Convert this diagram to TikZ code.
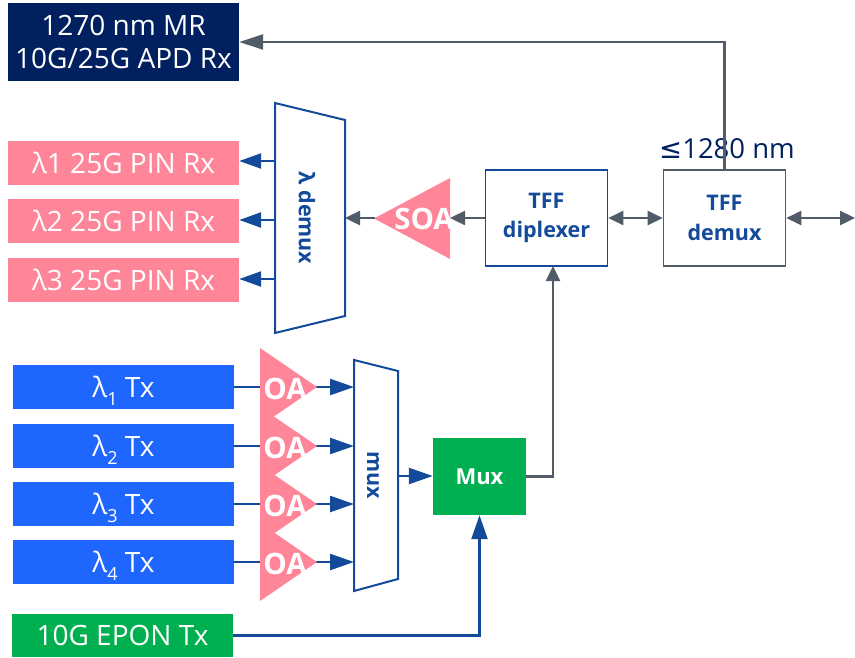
\documentclass[tikz,border=0pt]{standalone}
\usepackage{fontspec}
\setmainfont{Open Sans}
\newfontfamily\symfont{DejaVu Sans}
\usetikzlibrary{arrows.meta}
\definecolor{navy}{HTML}{002060}
\definecolor{rosa}{HTML}{FF8599}
\definecolor{txblue}{HTML}{1F66FF}
\definecolor{grn}{HTML}{00B050}
\definecolor{lineblue}{HTML}{134A9A}
\definecolor{linegrey}{HTML}{525B68}
\newcommand{\lab}[1]{\fontsize{#1}{#1}\selectfont}
\newcommand{\subdig}[1]{\raisebox{-0.32em}{\lab{18}#1}}
\tikzset{
  x=1pt,y=-1pt,
  block/.style={rectangle,inner sep=0pt,text=white,font=\lab{28}},
  oneline/.style={text height=20pt,text depth=0pt},
  rxbox/.style={block,oneline,fill=rosa,minimum width=231,minimum height=44},
  txbox/.style={block,oneline,fill=txblue,minimum width=221,minimum height=44},
  epon/.style={block,oneline,fill=grn,minimum width=221,minimum height=43},
  whitebox/.style={rectangle,inner sep=0pt,fill=white,draw,line width=1.6pt,minimum width=122,minimum height=96,align=center,text=lineblue,font=\bfseries\lab{21.5}},
  amp/.style={fill=rosa,draw=none},
  amplabel/.style={inner sep=0pt,text=white,font=\bfseries\lab{29.5}},
  trap/.style={draw=lineblue,line width=2pt,line join=miter,fill=white},
  rot/.style={inner sep=0pt,rotate=-90,text=lineblue,font=\bfseries\lab{21.5}},
  blueline/.style={draw=lineblue,line width=2.4pt,-{Triangle[length=24pt,width=16pt]}},
  blueshort/.style={draw=lineblue,line width=2.4pt,-{Triangle[length=22pt,width=15pt]}},
  greyline/.style={draw=linegrey,line width=2.4pt,-{Triangle[length=15pt,width=14pt]}},
  greylong/.style={draw=linegrey,line width=2.4pt,-{Triangle[length=24pt,width=15pt]}},
  greydouble/.style={draw=linegrey,line width=2.4pt,{Triangle[length=15pt,width=14pt]}-{Triangle[length=15pt,width=14pt]}},
}
\begin{document}
\begin{tikzpicture}
\useasboundingbox (0,0) rectangle (855,657);
% blocks
\node[block,fill=navy,minimum width=231,minimum height=78,align=center] (apd) at (123.5,42) {1270 nm MR\\[5pt]10G/25G APD Rx};
\node[rxbox] (rx1) at (123.5,163) {λ1 25G PIN Rx};
\node[rxbox] (rx2) at (123.5,221) {λ2 25G PIN Rx};
\node[rxbox] (rx3) at (123.5,280) {λ3 25G PIN Rx};
\node[txbox] (tx1) at (123.5,387) {λ\subdig{1} Tx};
\node[txbox] (tx2) at (123.5,446) {λ\subdig{2} Tx};
\node[txbox] (tx3) at (123.5,504) {λ\subdig{3} Tx};
\node[txbox] (tx4) at (123.5,562) {λ\subdig{4} Tx};
\node[epon] (eptx) at (122.5,635.5) {10G EPON Tx};
\node[rectangle,inner sep=0pt,fill=grn,minimum width=93,minimum height=77,text=white,font=\bfseries\lab{22}] (mx) at (479.5,476.5) {Mux};
\node[whitebox,draw=lineblue] (dip) at (546.5,218) {TFF\\[8pt]diplexer};
\node[whitebox,draw=linegrey] (dem) at (724.5,218) {TFF\\[8pt]demux};
\node[inner sep=0pt,text=navy,font=\lab{27.5}] (lim) at (727,149) {{\symfont ≤}1280 nm};
% free coordinates
\coordinate (fibre) at (855,218);
\coordinate (dl) at (275,161);
\coordinate (dm) at (275,220);
\coordinate (db) at (275,279);
\coordinate (dr) at (345,218);
\coordinate (soaL) at (375,218);
\coordinate (soaR) at (450,218);
\coordinate (m1) at (354,387);
\coordinate (m2) at (354,446);
\coordinate (m3) at (354,504);
\coordinate (m4) at (354,562);
\coordinate (mr) at (398,476);
\coordinate (dipin) at (553,266);
% connectors under amplifiers
\draw[blueline] (tx1.east) -- (m1);
\draw[blueline] (tx2.east) -- (m2);
\draw[blueline] (tx3.east) -- (m3);
\draw[blueline] (tx4.east) -- (m4);
% demux and mux
\draw[trap] (275,103) -- (345,120) -- (345,316) -- (275,333) -- cycle;
\node[rot] (dlab) at (307,218) {λ demux};
\draw[trap] (354,360) -- (398,371) -- (398,579) -- (354,591) -- cycle;
\node[rot] (mlab) at (373,475) {mux};
% amplifiers
\foreach \n/\y in {1/387,2/446,3/504,4/562}{
  \fill[amp] (260,\y-39) -- (317,\y) -- (260,\y+39) -- cycle;
  \node[amplabel] (oa\n) at (285,\y+1.5) {OA};
}
\fill[amp] (450,178) -- (374,218.5) -- (450,259) -- cycle;
% other connectors
\draw[blueshort] (dl) -- (rx1.east |- dl);
\draw[blueshort] (dm) -- (rx2.east |- dm);
\draw[blueshort] (db) -- (rx3.east |- db);
\draw[blueline] (mr) -- (mx.west |- mr);
\draw[blueline] (eptx.east) -| (mx.south);
\draw[greyline] (mx.east) -| (dipin);
\draw[greylong] (dem.north) |- (apd.east);
\draw[greyline] (dip.west) -- (soaR);
\draw[greyline] (soaL) -- (dr);
\draw[greydouble] (dip.east) -- (dem.west);
\draw[greydouble] (dem.east) -- (fibre);
\begin{scope}
\clip (374,170) rectangle (450,266);
\node[amplabel] (soa) at (424,219) {SOA};
\end{scope}
\end{tikzpicture}
\end{document}
